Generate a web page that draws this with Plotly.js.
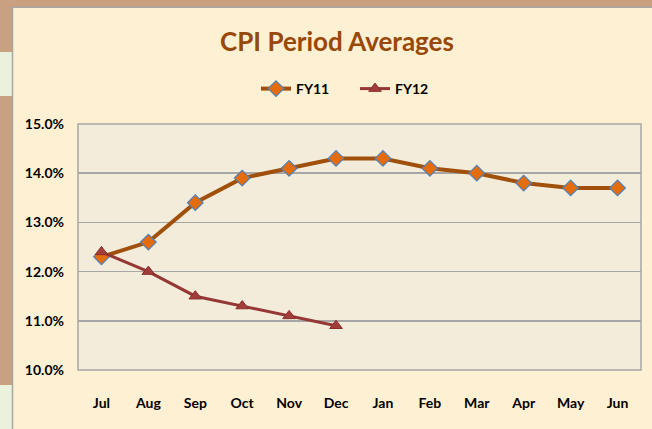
<!DOCTYPE html>
<html>
<head>
<meta charset="utf-8">
<script src="https://cdn.plot.ly/plotly-3.0.1.min.js"></script>
<style>
html,body{margin:0;padding:0;background:#fef0d3;}
#chart{width:652px;height:429px;}
</style>
</head>
<body>
<div id="chart"></div>
<script>
const months = ["Jul","Aug","Sep","Oct","Nov","Dec","Jan","Feb","Mar","Apr","May","Jun"];
const fy11 = [12.3,12.6,13.4,13.9,14.1,14.3,14.3,14.1,14.0,13.8,13.7,13.7];
const fy12 = [12.4,12.0,11.5,11.3,11.1,10.9];
const fy12Months = months.slice(0, fy12.length);

const W = 652, H = 429;
const M = {l:78, r:11, t:124, b:59};
const pw = W - M.l - M.r, ph = H - M.t - M.b;
const px = x => (x - M.l) / pw;
const py = y => (H - M.b - y) / ph;

const brown = "#c9a080", green = "#eaf1dd", border = "#a6a6a6";
function rect(x0,y0,x1,y1,fill){
  return {type:"rect", xref:"paper", yref:"paper", x0:px(x0), x1:px(x1), y0:py(y1), y1:py(y0),
          fillcolor:fill, line:{width:0}, layer:"above"};
}
function line(x0,y0,x1,y1){
  return {type:"line", xref:"paper", yref:"paper", x0:px(x0), x1:px(x1), y0:py(y0), y1:py(y1),
          line:{color:border, width:1.5}, layer:"above"};
}
const shapes = [
  rect(0,0,W,7,brown),
  rect(0,0,12,52,brown),
  rect(0,52,12,96,green),
  rect(0,96,12,385,brown),
  rect(0,385,12,H,green),
  line(12,7.3,W,7.3),
  line(12.5,7,12.5,H),
  {type:"rect", xref:"paper", yref:"paper", x0:0, x1:1, y0:0, y1:1,
   line:{color:border, width:1.5}, fillcolor:"rgba(0,0,0,0)", layer:"below"}
];

const traces = [
  {x:months, y:fy11, name:"FY11", type:"scatter", mode:"lines+markers",
   line:{color:"#a0500a", width:4},
   marker:{symbol:"diamond", size:12, color:"#e46c0a", line:{color:"#4f81bd", width:1.2}}},
  {x:fy12Months, y:fy12, name:"FY12", type:"scatter", mode:"lines+markers",
   line:{color:"#953735", width:3},
   marker:{symbol:"triangle-up", size:11, color:"#a33d3b", line:{color:"#8a2f2d", width:1}}}
];

const layout = {
  width:W, height:H,
  margin:M,
  paper_bgcolor:"#fef0d3",
  plot_bgcolor:"#f4ecda",
  font:{family:"Lato, 'Open Sans', sans-serif", color:"#000"},
  title:{text:"<b>CPI Period Averages</b>", font:{family:"Lato, sans-serif", size:26, color:"#984807"},
         xref:"container", x:337/W, xanchor:"center", yref:"container", y:1-42/H, yanchor:"middle"},
  showlegend:true,
  legend:{orientation:"h", x:px(355), xanchor:"center", y:py(89), yanchor:"middle",
          bgcolor:"rgba(0,0,0,0)", font:{size:14, color:"#000", family:"Lato, sans-serif", weight:"bold"},
          itemwidth:30, entrywidth:54, entrywidthmode:"pixels", traceorder:"normal"},
  xaxis:{type:"category", categoryorder:"array", categoryarray:months, range:[-0.5,11.5],
         showgrid:false, zeroline:false, showline:false, ticks:"",
         tickfont:{size:14, family:"Lato, sans-serif", weight:"bold"}, ticklabelstandoff:23, fixedrange:true},
  yaxis:{range:[10,15], dtick:1, tickformat:".1f", ticksuffix:"%",
         showgrid:true, gridcolor:border, gridwidth:1.5, zeroline:false, showline:false, ticks:"",
         tickfont:{size:14, family:"Lato, sans-serif", weight:"bold"}, ticklabelstandoff:13, fixedrange:true},
  shapes:shapes,
  hovermode:false
};

Plotly.newPlot("chart", traces, layout, {staticPlot:true, displayModeBar:false});
</script>
</body>
</html>
